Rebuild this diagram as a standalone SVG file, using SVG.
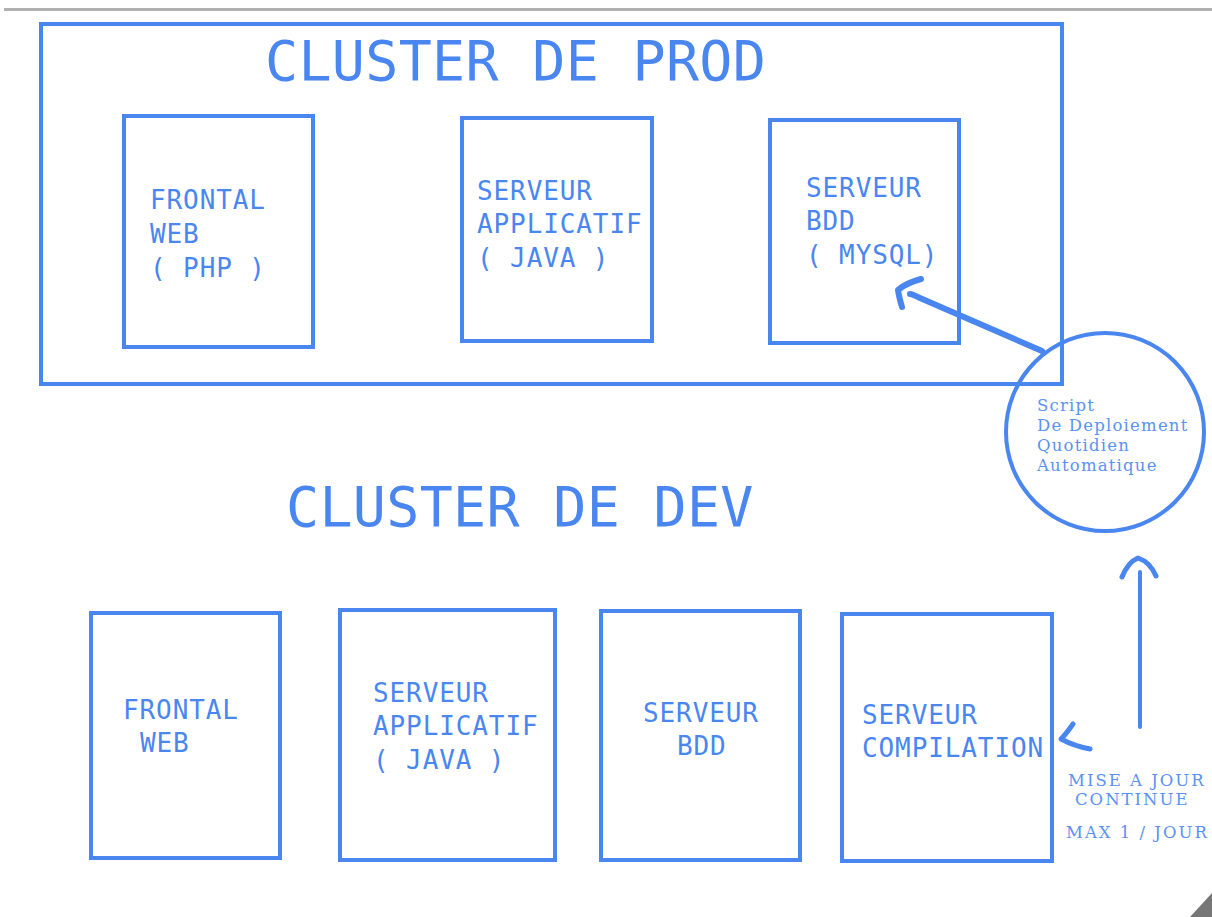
<svg xmlns="http://www.w3.org/2000/svg" width="1212" height="917" viewBox="0 0 1212 917">
<style>
.box{fill:none;stroke:#4a86f0;stroke-width:4}
.t{font-family:"DejaVu Sans Mono","Liberation Mono",monospace;fill:#4a86f0;font-size:26px;letter-spacing:0.9px}
.title{font-family:"DejaVu Sans Mono","Liberation Mono",monospace;fill:#4a86f0;font-size:55px;letter-spacing:0.3px}
.s{font-family:"DejaVu Serif","Liberation Serif",serif;fill:#5b92f2;font-size:16.5px;letter-spacing:1.2px}
.m{font-family:"DejaVu Serif","Liberation Serif",serif;fill:#5b92f2;font-size:16.5px;letter-spacing:2px}
.ln{fill:none;stroke:#4a86f0;stroke-linecap:round;stroke-linejoin:round}
</style>
<rect width="1212" height="917" fill="#fff"/>
<line x1="4" y1="9.5" x2="1212" y2="9.5" stroke="#b0b0b0" stroke-width="3"/>
<polygon points="1190,917 1212,893 1212,917" fill="#777"/>
<g id="cluster-prod">
<rect class="box" x="41" y="24" width="1021" height="360"/>
<text class="title" x="265" y="80">CLUSTER DE PROD</text>
</g>
<g id="prod-frontal">
<rect class="box" x="124" y="116" width="189" height="231"/>
<text class="t" x="150" y="209">FRONTAL</text>
<text class="t" x="150" y="243">WEB</text>
<text class="t" x="150" y="277">( PHP )</text>
</g>
<g id="prod-app">
<rect class="box" x="462" y="118" width="190" height="223"/>
<text class="t" x="477" y="200">SERVEUR</text>
<text class="t" x="477" y="233">APPLICATIF</text>
<text class="t" x="477" y="267">( JAVA )</text>
</g>
<g id="prod-bdd">
<rect class="box" x="770" y="120" width="189" height="223"/>
<text class="t" x="806" y="197">SERVEUR</text>
<text class="t" x="806" y="230">BDD</text>
<text class="t" x="806" y="264">( MYSQL)</text>
</g>
<g id="script">
<circle cx="1105" cy="432" r="99" fill="none" stroke="#4a86f0" stroke-width="4"/>
<text class="s" x="1037" y="411">Script</text>
<text class="s" x="1037" y="431">De Deploiement</text>
<text class="s" x="1037" y="451">Quotidien</text>
<text class="s" x="1037" y="471">Automatique</text>
</g>
<g id="cluster-dev">
<text class="title" x="286" y="526">CLUSTER DE DEV</text>
</g>
<g id="dev-frontal">
<rect class="box" x="91" y="613" width="189" height="245"/>
<text class="t" x="123" y="719">FRONTAL</text>
<text class="t" x="140" y="752">WEB</text>
</g>
<g id="dev-app">
<rect class="box" x="340" y="610" width="215" height="250"/>
<text class="t" x="373" y="702">SERVEUR</text>
<text class="t" x="373" y="735">APPLICATIF</text>
<text class="t" x="373" y="769">( JAVA )</text>
</g>
<g id="dev-bdd">
<rect class="box" x="601" y="611" width="199" height="249"/>
<text class="t" x="643" y="722">SERVEUR</text>
<text class="t" x="677" y="755">BDD</text>
</g>
<g id="dev-compil">
<rect class="box" x="842" y="614" width="210" height="247"/>
<text class="t" x="862" y="724">SERVEUR</text>
<text class="t" x="862" y="757">COMPILATION</text>
</g>
<g id="labels">
<text class="m" x="1068" y="786">MISE A JOUR</text>
<text class="m" x="1075" y="805">CONTINUE</text>
<text class="m" x="1066" y="838">MAX 1 / JOUR</text>
</g>
<g id="connectors">
<path class="ln" stroke-width="6" d="M1042,351 L920,298 Q912,294 910,294"/>
<path class="ln" stroke-width="6" d="M902,307 Q899,297 898,290 Q906,283 921,279"/>
<path class="ln" stroke-width="4" d="M1140,727 L1140,572"/>
<path class="ln" stroke-width="5" d="M1122,577 Q1128,562 1138,558 Q1150,562 1156,576"/>
<path class="ln" stroke-width="5" d="M1073,724 Q1066,734 1061,739 Q1074,746 1090,749"/>
</g>
</svg>
